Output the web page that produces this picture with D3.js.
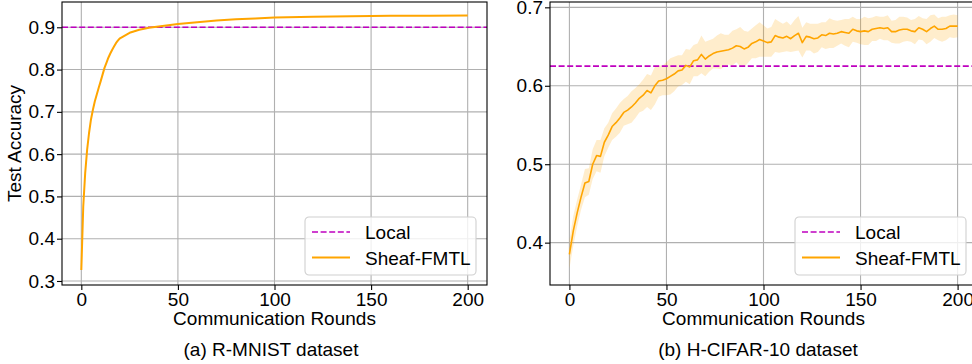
<!DOCTYPE html>
<html>
<head>
<meta charset="utf-8">
<script src="https://cdn.jsdelivr.net/npm/d3@7"></script>
<style>
body { margin: 0; background: #fff; }
</style>
</head>
<body>
<svg id="canvas"></svg>
<script>
// R-MNIST at uneven rounds
let mnistRounds = [0,1,2,3,4,5,6,7,8,9,10,11,12,13,14,15,16,17,18,19,20,25,30,35,40,45,50,60,70,80,90,100,120,140,160,180,200];
let mnistAcc = [0.326,0.476,0.555,0.610,0.650,0.682,0.705,0.725,0.741,0.757,0.772,0.788,0.804,0.816,0.828,0.838,0.847,0.855,0.863,0.869,
                0.874,0.887,0.894,0.899,0.902,0.905,0.908,0.912,0.916,0.919,0.921,0.923,0.925,0.926,0.927,0.927,0.928];
let mnistLocal = 0.9;

// H-CIFAR-10, every second round, with the shaded spread
let cifarRounds = d3.range(0, 201, 2);
let cifarAcc = [0.385,0.415,0.438,0.458,0.476,0.478,0.500,0.511,0.510,0.528,
                0.537,0.548,0.553,0.559,0.566,0.569,0.573,0.578,0.584,0.588,
                0.594,0.591,0.600,0.606,0.607,0.609,0.612,0.615,0.619,0.620,
                0.626,0.624,0.632,0.633,0.640,0.634,0.638,0.641,0.643,0.644,
                0.645,0.646,0.648,0.651,0.650,0.647,0.649,0.654,0.656,0.659,
                0.657,0.655,0.656,0.664,0.662,0.661,0.663,0.660,0.664,0.667,
                0.655,0.663,0.662,0.660,0.661,0.665,0.664,0.667,0.666,0.667,
                0.669,0.668,0.667,0.672,0.670,0.669,0.670,0.669,0.672,0.673,
                0.674,0.673,0.674,0.669,0.669,0.671,0.672,0.672,0.670,0.669,
                0.674,0.672,0.669,0.673,0.676,0.672,0.672,0.673,0.676,0.676,
                0.676];
let cifarSpread = [0.018,0.019,0.017,0.016,0.018,0.017,0.019,0.020,0.021,0.018,0.016,0.017,0.018,0.019,0.017,0.018,0.020,0.019,0.018,0.020,
                   0.021,0.022,0.024,0.020,0.019,0.021,0.023,0.022,0.020,0.019,0.021,0.022,0.020,0.021,0.024,0.022,0.020,0.019,0.021,0.023,
                   0.020,0.019,0.022,0.021,0.025,0.023,0.020,0.019,0.021,0.022,0.020,0.018,0.019,0.021,0.020,0.018,0.019,0.017,0.020,0.022,
                   0.019,0.018,0.017,0.019,0.018,0.016,0.017,0.019,0.018,0.016,0.015,0.017,0.018,0.016,0.015,0.016,0.018,0.017,0.015,0.016,
                   0.014,0.015,0.016,0.014,0.015,0.017,0.016,0.015,0.014,0.016,0.015,0.014,0.016,0.017,0.015,0.014,0.016,0.015,0.014,0.015,0.014];
let cifarLocal = 0.625;

let xTicks = [0, 50, 100, 150, 200];
let mnistYTicks = [0.3, 0.4, 0.5, 0.6, 0.7, 0.8, 0.9];
let cifarYTicks = [0.4, 0.5, 0.6, 0.7];
let legendLabels = ["Local", "Sheaf-FMTL"];

let width = 972;
let height = 364;
let font = "'Liberation Sans', Arial, Helvetica, sans-serif";
let fontSize = 19;

let canvas = d3.select("#canvas");
canvas.attr("width", width)
canvas.attr("height", height)

let drawPanel = (p) => {
    let xScale = d3.scaleLinear()
                   .domain([-10, 210])
                   .range([p.left, p.right])
    let yScale = d3.scaleLinear()
                   .domain(p.yDomain)
                   .range([p.bottom, p.top])

    let g = canvas.append("g")

    // grid
    g.selectAll(".vgrid")
     .data(xTicks)
     .enter()
     .append("line")
     .attr("x1", d => xScale(d))
     .attr("x2", d => xScale(d))
     .attr("y1", p.top)
     .attr("y2", p.bottom)
     .attr("stroke", "#b0b0b0")
     .attr("stroke-width", 1.1)

    g.selectAll(".hgrid")
     .data(p.yTicks)
     .enter()
     .append("line")
     .attr("x1", p.left)
     .attr("x2", p.right)
     .attr("y1", d => yScale(d))
     .attr("y2", d => yScale(d))
     .attr("stroke", "#b0b0b0")
     .attr("stroke-width", 1.1)

    if (p.spread) {
        let area = d3.area()
                     .x((d, i) => xScale(p.rounds[i]))
                     .y0((d, i) => yScale(d - p.spread[i]))
                     .y1((d, i) => yScale(d + p.spread[i]))
        g.append("path")
         .datum(p.acc)
         .attr("d", area)
         .attr("fill", "orange")
         .attr("fill-opacity", 0.2)
    }

    g.append("line")
     .attr("x1", p.left)
     .attr("x2", p.right)
     .attr("y1", yScale(p.local))
     .attr("y2", yScale(p.local))
     .attr("stroke", "#bf00bf")
     .attr("stroke-width", 1.6)
     .attr("stroke-dasharray", "6,2.6")

    let line = d3.line()
                 .x((d, i) => xScale(p.rounds[i]))
                 .y(d => yScale(d))
    g.append("path")
     .datum(p.acc)
     .attr("d", line)
     .attr("fill", "none")
     .attr("stroke", "orange")
     .attr("stroke-width", p.lineWidth)
     .attr("stroke-linejoin", "round")

    // frame
    g.append("rect")
     .attr("x", p.left)
     .attr("y", p.top)
     .attr("width", p.right - p.left)
     .attr("height", p.bottom - p.top)
     .attr("fill", "none")
     .attr("stroke", "#000")
     .attr("stroke-width", 1.1)

    let xAxis = d3.axisBottom(xScale)
                  .tickValues(xTicks)
                  .tickFormat(d3.format("d"))
                  .tickSize(5)
                  .tickPadding(3)
                  .tickSizeOuter(0)
    let yAxis = d3.axisLeft(yScale)
                  .tickValues(p.yTicks)
                  .tickFormat(d3.format(".1f"))
                  .tickSize(5)
                  .tickPadding(2)
                  .tickSizeOuter(0)

    g.append("g")
     .attr("transform", "translate(0," + p.bottom + ")")
     .call(xAxis)
     .attr("font-family", font)
     .attr("font-size", fontSize)
     .call(a => a.select(".domain").remove())

    g.append("g")
     .attr("transform", "translate(" + p.left + ",0)")
     .call(yAxis)
     .attr("font-family", font)
     .attr("font-size", fontSize)
     .call(a => a.select(".domain").remove())

    g.selectAll(".tick text").attr("fill", "#000")
    g.selectAll(".tick line").attr("stroke", "#000").attr("stroke-width", 1.1)

    g.append("text")
     .attr("x", (p.left + p.right) / 2)
     .attr("y", 325)
     .attr("text-anchor", "middle")
     .attr("font-family", font)
     .attr("font-size", fontSize)
     .text("Communication Rounds")

    g.append("text")
     .attr("x", p.captionX)
     .attr("y", 356)
     .attr("text-anchor", "middle")
     .attr("font-family", font)
     .attr("font-size", fontSize)
     .text(p.caption)

    if (p.yLabel) {
        g.append("text")
         .attr("transform", "translate(21," + ((p.top + p.bottom) / 2) + ") rotate(-90)")
         .attr("text-anchor", "middle")
         .attr("font-family", font)
         .attr("font-size", fontSize)
         .text(p.yLabel)
    }

    // legend, lower right
    let lx = p.right - 11 - 171
    let ly = 217
    let leg = g.append("g").attr("transform", "translate(" + lx + "," + ly + ")")
    leg.append("rect")
       .attr("width", 171)
       .attr("height", 58)
       .attr("rx", 4)
       .attr("fill", "#fff")
       .attr("fill-opacity", 0.8)
       .attr("stroke", "#d0d0d0")
       .attr("stroke-width", 1.1)

    leg.selectAll(".item")
       .data(legendLabels)
       .enter()
       .append("line")
       .attr("x1", 7)
       .attr("x2", 45)
       .attr("y1", (d, i) => 15 + i * 25.6)
       .attr("y2", (d, i) => 15 + i * 25.6)
       .attr("stroke", (d, i) => i == 0 ? "#bf00bf" : "orange")
       .attr("stroke-width", (d, i) => i == 0 ? 1.6 : 2)
       .attr("stroke-dasharray", (d, i) => i == 0 ? "6,2.6" : null)

    leg.selectAll(".label")
       .data(legendLabels)
       .enter()
       .append("text")
       .attr("x", 60)
       .attr("y", (d, i) => 22 + i * 25.6)
       .attr("font-family", font)
       .attr("font-size", fontSize)
       .text(d => d)
}

drawPanel({
    left: 62, right: 487, top: 2, bottom: 285,
    yDomain: [0.2905, 0.9598], yTicks: mnistYTicks,
    rounds: mnistRounds, acc: mnistAcc, local: mnistLocal,
    lineWidth: 2, yLabel: "Test Accuracy",
    caption: "(a) R-MNIST dataset", captionX: 271
})

drawPanel({
    left: 550, right: 977, top: 2, bottom: 285,
    yDomain: [0.346, 0.7068], yTicks: cifarYTicks,
    rounds: cifarRounds, acc: cifarAcc, spread: cifarSpread, local: cifarLocal,
    lineWidth: 1.6,
    caption: "(b) H-CIFAR-10 dataset", captionX: 758
})
</script>
</body>
</html>
